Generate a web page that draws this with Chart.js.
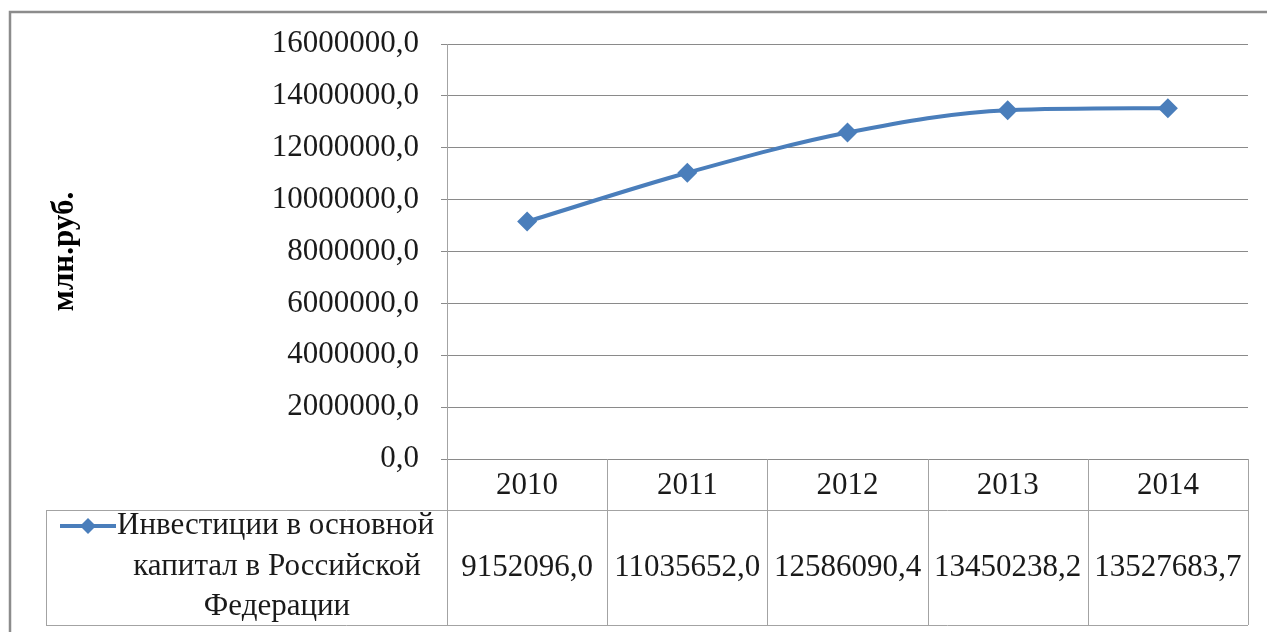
<!DOCTYPE html>
<html>
<head>
<meta charset="utf-8">
<script src="https://cdn.jsdelivr.net/npm/chart.js@4.4.1/dist/chart.umd.min.js"></script>
<style>
  html, body { margin: 0; padding: 0; background: #fff; }
  canvas { display: block; }
</style>
</head>
<body>
<canvas id="inv" width="1267" height="632"></canvas>
<script>
// Investment in fixed capital, Russian Federation, 2010-2014 (mln rub.)
const years = ['2010', '2011', '2012', '2013', '2014'];
const investments = [9152096.0, 11035652.0, 12586090.4, 13450238.2, 13527683.7];
const seriesLabel = ['Инвестиции в основной', 'капитал в Российской', 'Федерации'];
const yTitle = 'млн.руб.';
const yMax = 16000000;
const yStep = 2000000;

const LINE_COLOR = '#4a7ebb';
const TEXT_COLOR = '#1a1a1a';
const GRID_COLOR = '#8a8a8a';
const TABLE_COLOR = '#a3a3a3';
const FONT = '"Liberation Serif", "Times New Roman", serif';

function fmt(v) {
    return v.toFixed(1).replace('.', ',');
}

// outer frame (top and left edges only) + data table under the plot
const tablePlugin = {
    id: 'dataTable',
    beforeDraw: function (chart) {
        const ctx = chart.ctx;
        ctx.save();
        ctx.fillStyle = '#fff';
        ctx.fillRect(0, 0, chart.width, chart.height);
        ctx.strokeStyle = '#8c8c8c';
        ctx.lineWidth = 2.5;
        ctx.beginPath();
        ctx.moveTo(10, chart.height);
        ctx.lineTo(10, 12);
        ctx.lineTo(chart.width, 12);
        ctx.stroke();
        ctx.restore();
    },
    afterDraw: function (chart) {
        const ctx = chart.ctx;
        const x = chart.scales.x;
        const area = chart.chartArea;
        const top = area.bottom;
        const mid = top + 51;
        const bottom = top + 166;
        const tableLeft = 46;
        const step = (area.right - area.left) / years.length;

        ctx.save();
        ctx.strokeStyle = TABLE_COLOR;
        ctx.lineWidth = 1;
        ctx.beginPath();
        // horizontal rules
        ctx.moveTo(tableLeft, mid + 0.5); ctx.lineTo(area.right, mid + 0.5);
        ctx.moveTo(tableLeft, bottom + 0.5); ctx.lineTo(area.right, bottom + 0.5);
        ctx.moveTo(tableLeft + 0.5, mid); ctx.lineTo(tableLeft + 0.5, bottom);
        // column borders
        for (let i = 0; i <= years.length; i++) {
            const px = Math.round(area.left + i * step) + 0.5;
            ctx.moveTo(px, top); ctx.lineTo(px, bottom);
        }
        ctx.stroke();

        ctx.fillStyle = TEXT_COLOR;
        ctx.font = '31px ' + FONT;
        ctx.textAlign = 'center';
        ctx.textBaseline = 'middle';
        years.forEach(function (yr, i) {
            const cx = x.getPixelForValue(i);
            ctx.fillText(yr, cx, top + 27);
            ctx.fillText(fmt(investments[i]), cx, mid + 58);
        });

        // legend key and series name in the first column
        const ly = mid + 16;
        ctx.strokeStyle = LINE_COLOR;
        ctx.lineWidth = 4;
        ctx.beginPath();
        ctx.moveTo(60, ly); ctx.lineTo(116, ly);
        ctx.stroke();
        ctx.fillStyle = LINE_COLOR;
        ctx.beginPath();
        ctx.moveTo(88, ly - 8); ctx.lineTo(96, ly);
        ctx.lineTo(88, ly + 8); ctx.lineTo(80, ly);
        ctx.closePath();
        ctx.fill();

        ctx.fillStyle = TEXT_COLOR;
        ctx.textAlign = 'left';
        ctx.fillText(seriesLabel[0], 117, ly);
        ctx.textAlign = 'center';
        ctx.fillText(seriesLabel[1], 277, ly + 41);
        ctx.fillText(seriesLabel[2], 277, ly + 81);
        ctx.restore();
    }
};

const chart = new Chart(document.getElementById('inv'), {
    type: 'line',
    data: {
        labels: years,
        datasets: [{
            label: seriesLabel.join(' '),
            data: investments,
            borderColor: LINE_COLOR,
            backgroundColor: LINE_COLOR,
            borderWidth: 4,
            cubicInterpolationMode: 'monotone',
            pointStyle: 'rectRot',
            pointRadius: 10,
            pointHoverRadius: 10,
            pointBorderWidth: 0
        }]
    },
    options: {
        responsive: false,
        animation: false,
        layout: { padding: { left: 42, right: 19, top: 44, bottom: 173 } },
        scales: {
            x: {
                display: false,
                offset: true
            },
            y: {
                min: 0,
                max: yMax,
                afterFit: function (scale) { scale.width = 447 - 42; },
                ticks: {
                    stepSize: yStep,
                    padding: 22,
                    color: TEXT_COLOR,
                    font: { family: FONT, size: 31 },
                    callback: function (v) { return fmt(v); }
                },
                grid: {
                    color: GRID_COLOR,
                    lineWidth: 1,
                    tickLength: 6,
                    tickColor: GRID_COLOR
                },
                border: { display: true, color: TABLE_COLOR, width: 1 },
                title: {
                    display: true,
                    text: yTitle,
                    color: '#000',
                    font: { family: FONT, size: 31, weight: 'bold' },
                    padding: { top: 4, bottom: 0 }
                }
            }
        },
        plugins: {
            legend: { display: false },
            tooltip: { enabled: false }
        }
    },
    plugins: [tablePlugin]
});
</script>
</body>
</html>
